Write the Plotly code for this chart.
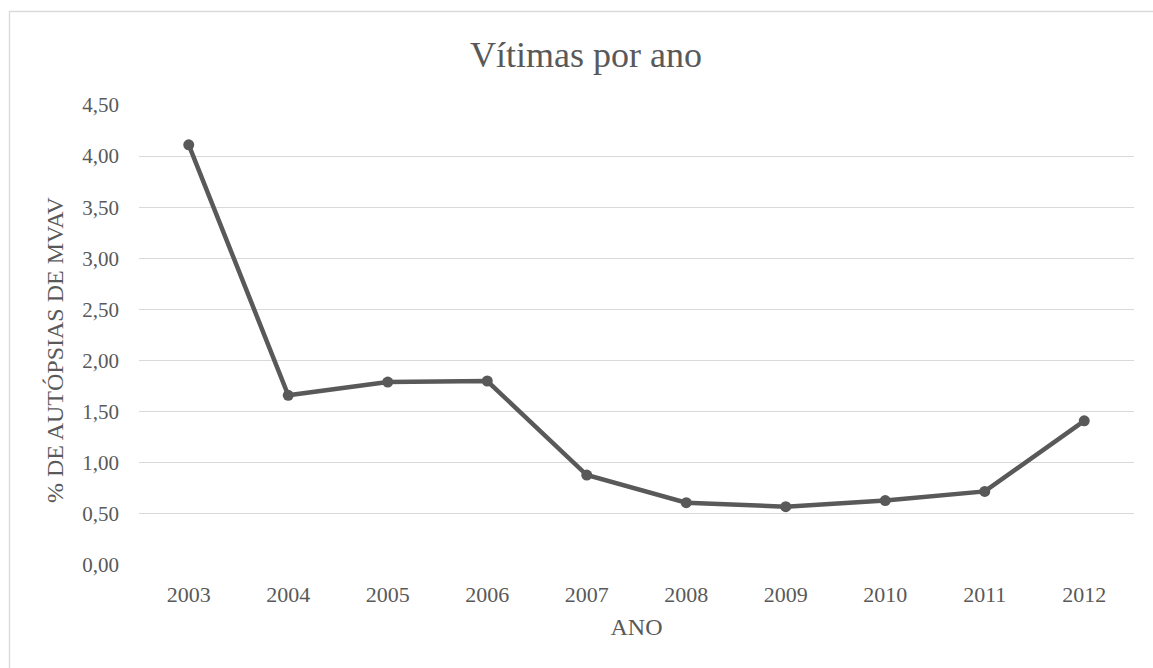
import plotly.graph_objects as go

anos = ["2003", "2004", "2005", "2006", "2007", "2008", "2009", "2010", "2011", "2012"]
percentual = [4.11, 1.66, 1.79, 1.80, 0.88, 0.61, 0.57, 0.63, 0.72, 1.41]

W, H = 1153, 668
L, R, T, B = 139, 19, 105, 103
pw, ph = W - L - R, H - T - B

def px_x(px):
    return (px - L) / pw

def px_y(py):
    return (H - B - py) / ph

fig = go.Figure()
fig.add_trace(go.Scatter(
    x=anos, y=percentual, mode="lines+markers",
    line=dict(color="#595959", width=4.5),
    marker=dict(color="#595959", size=11),
    showlegend=False,
))

font = "Liberation Serif, Times New Roman, serif"
fig.update_layout(
    width=W, height=H,
    margin=dict(l=L, r=R, t=T, b=B, autoexpand=False),
    paper_bgcolor="white", plot_bgcolor="white",
    separators=",.",
    font=dict(family=font, color="#595959", size=21),
    title=dict(text="Vítimas por ano", x=586 / W, xanchor="center",
               y=1 - 54 / H, yanchor="middle",
               font=dict(family=font, size=36, color="#595959")),
    xaxis=dict(type="category", range=[-0.5, 9.5], showgrid=False,
               showline=False, ticks="", zeroline=False,
               tickfont=dict(size=22, color="#595959"),
               ticklabelstandoff=14,
               title=dict(text="ANO", font=dict(size=24, color="#595959"), standoff=12)),
    yaxis=dict(range=[0, 4.5], dtick=0.5, tick0=0, tickformat=".2f",
               showgrid=True, gridcolor="#d9d9d9", gridwidth=1.3,
               zeroline=False, showline=False, ticks="",
               tickfont=dict(size=21, color="#595959"),
               ticklabelstandoff=19),
)

fig.add_annotation(text="% DE AUTÓPSIAS DE MVAV", textangle=-90,
                   xref="paper", yref="paper", x=px_x(55), y=px_y(350),
                   xanchor="center", yanchor="middle", showarrow=False,
                   font=dict(family=font, size=24, color="#595959"))

fig.add_shape(type="rect", xref="paper", yref="paper",
              x0=px_x(9.5), x1=px_x(1170), y0=px_y(720), y1=px_y(11.5),
              line=dict(color="#d9d9d9", width=1.3), fillcolor="rgba(0,0,0,0)", layer="below")

fig.write_html("out.html", config={"displayModeBar": False},
               post_script="document.body.style.margin='0';document.body.style.overflow='hidden';")
